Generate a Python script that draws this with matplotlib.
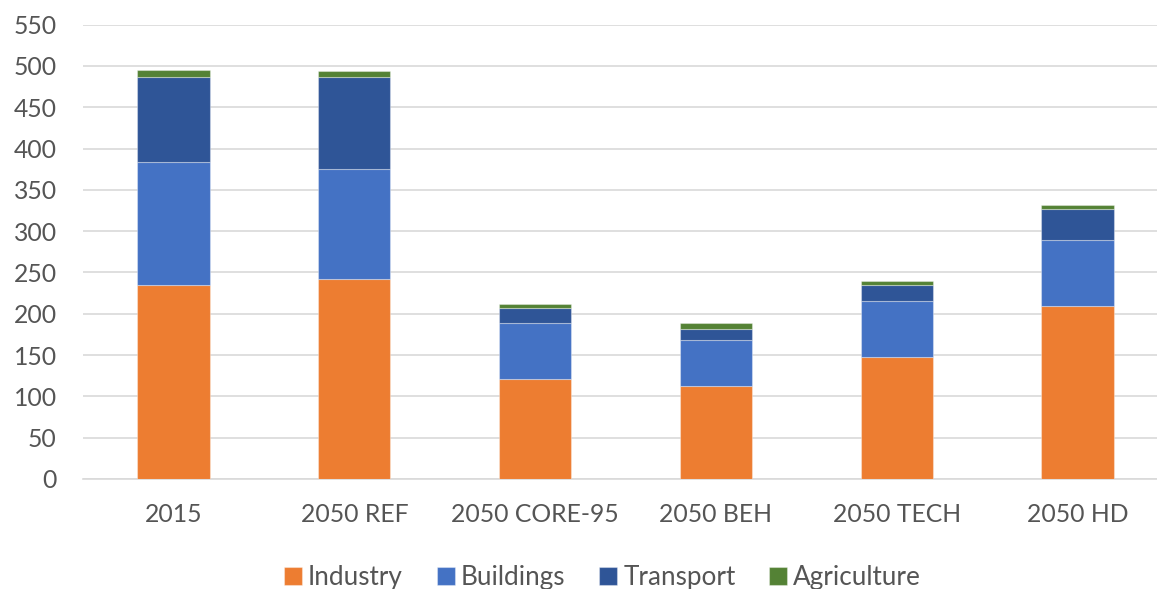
import matplotlib
matplotlib.use("Agg")
import matplotlib.pyplot as plt
import numpy as np

# Scenario emissions by sector
categories = ["2015", "2050 REF", "2050 CORE-95", "2050 BEH", "2050 TECH", "2050 HD"]
industry = [235.0, 242.0, 121.5, 112.6, 147.3, 209.4]
buildings = [148.5, 133.3, 67.0, 55.3, 67.8, 79.6]
transport = [103.6, 111.4, 18.1, 14.1, 20.1, 37.9]
agriculture = [7.8, 7.3, 5.6, 6.5, 4.5, 4.8]

series_names = ["Industry", "Buildings", "Transport", "Agriculture"]
series_values = [industry, buildings, transport, agriculture]
series_colors = ["#ED7D31", "#4472C4", "#2F5597", "#548235"]

yticks = list(range(0, 551, 50))

plt.rcParams["font.family"] = ["Lato", "DejaVu Sans"]
text_color = "#555555"
grid_color = "#D9D9D9"

fig = plt.figure(figsize=(11.57, 5.89), dpi=100)
ax = fig.add_axes([83.1 / 1157, 110 / 589, (1168 - 83.1) / 1157, 454.3 / 589])

x = np.arange(len(categories))
bottom = np.zeros(len(categories))
handles = []
for name, vals, col in zip(series_names, series_values, series_colors):
    vals = np.asarray(vals, dtype=float)
    h = ax.bar(x, vals, width=0.4, bottom=bottom, color=col,
               edgecolor=(1, 1, 1, 0.35), linewidth=0.8, label=name, zorder=3)
    handles.append(h)
    bottom += vals

ax.set_xlim(-0.5, len(categories) - 0.5)
ax.set_ylim(0, 550)
ax.set_yticks(yticks)
ax.set_yticklabels([str(t) for t in yticks])
ax.set_xticks(x)
ax.set_xticklabels(categories)

ax.yaxis.grid(True, color=grid_color, linewidth=1.2, zorder=0)
ax.set_axisbelow(True)
for side in ["top", "right", "left"]:
    ax.spines[side].set_visible(False)
ax.spines["bottom"].set_color(grid_color)
ax.spines["bottom"].set_linewidth(1.2)

ax.tick_params(axis="both", length=0, labelsize=17.8, labelcolor=text_color)
ax.tick_params(axis="y", pad=19)
ax.tick_params(axis="x", pad=17)

legend_fs = 18.8
em_px = legend_fs * 100 / 72
fig.legend(handles=handles, labels=series_names, loc="center",
           bbox_to_anchor=(602.5 / 1157, 11 / 589), ncol=4, frameon=False,
           fontsize=legend_fs, labelcolor=text_color, handlelength=18 / em_px,
           handleheight=18 / em_px, handletextpad=6 / em_px,
           columnspacing=34 / em_px, borderpad=0, borderaxespad=0)

fig.savefig("out.png", dpi=100)
